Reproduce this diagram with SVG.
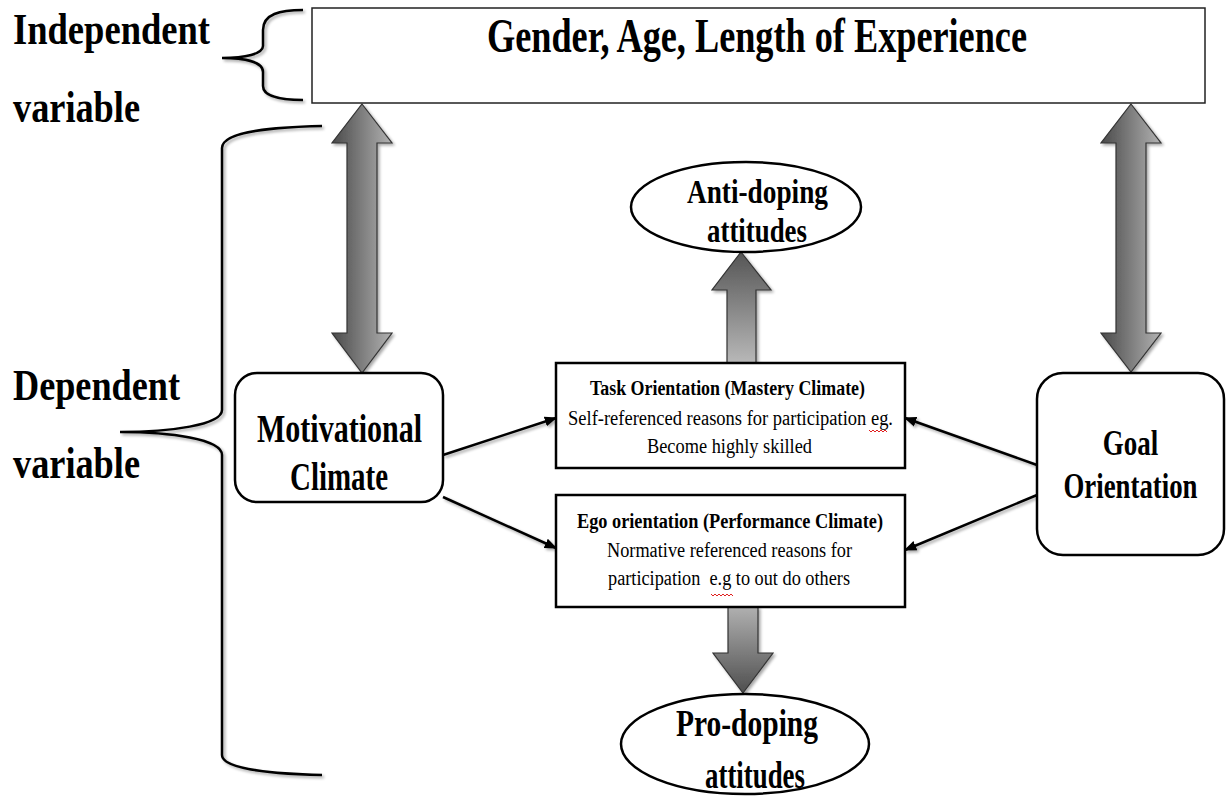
<svg xmlns="http://www.w3.org/2000/svg" width="1231" height="796" viewBox="0 0 1231 796">
<style>
  .t { font-family: "Liberation Serif", "Times New Roman", serif; fill: #000; }
  .b { font-weight: bold; }
  .box { fill: #fff; stroke: #000; stroke-width: 2.5; }
  .brace { fill: none; stroke: #000; stroke-width: 2.5; filter: url(#sh); }
  .conn { stroke: #000; stroke-width: 2.5; fill: none; marker-end: url(#ah); filter: url(#sh); }
  .big { stroke: #333; stroke-width: 1.2; filter: url(#sh); }
  .sq { fill: none; stroke: #e02020; stroke-width: 1; }
</style>
<defs>
  <filter id="sh" x="-20%" y="-20%" width="140%" height="140%">
    <feGaussianBlur in="SourceAlpha" stdDeviation="1.5"/>
    <feOffset dx="1.5" dy="1.5" result="o"/>
    <feComponentTransfer><feFuncA type="linear" slope="0.35"/></feComponentTransfer>
    <feMerge><feMergeNode/><feMergeNode in="SourceGraphic"/></feMerge>
  </filter>
  <linearGradient id="gh" x1="0" y1="0" x2="1" y2="0">
    <stop offset="0" stop-color="#4a4a4a"/>
    <stop offset="1" stop-color="#b2b2b2"/>
  </linearGradient>
  <linearGradient id="gup" x1="0" y1="0" x2="0" y2="1">
    <stop offset="0" stop-color="#555"/>
    <stop offset="1" stop-color="#b8b8b8"/>
  </linearGradient>
  <linearGradient id="gdn" x1="0" y1="0" x2="0" y2="1">
    <stop offset="0" stop-color="#b0b0b0"/>
    <stop offset="1" stop-color="#4f4f4f"/>
  </linearGradient>
  <marker id="ah" viewBox="0 0 10 10" refX="9" refY="5" markerWidth="5" markerHeight="5" orient="auto" markerUnits="strokeWidth">
    <path d="M0,1 L10,5 L0,9 Z" fill="#000"/>
  </marker>
</defs>

<g id="labels">
  <text class="t b" x="13" y="44" font-size="44" textLength="197" lengthAdjust="spacingAndGlyphs">Independent</text>
  <text class="t b" x="13" y="122" font-size="44" textLength="127" lengthAdjust="spacingAndGlyphs">variable</text>
  <text class="t b" x="13" y="400" font-size="44" textLength="167" lengthAdjust="spacingAndGlyphs">Dependent</text>
  <text class="t b" x="13" y="478" font-size="44" textLength="127" lengthAdjust="spacingAndGlyphs">variable</text>
</g>

<g id="braces">
  <path class="brace" d="M303,10 C280,10 263,14 263,30 L263,46 C263,54 245,58 222,58 C245,58 263,62 263,72 L263,86 C263,96 280,100 303,100"/>
  <path class="brace" d="M322,126 C280,127 222,130 222,148 L222,410 C222,425 170,432 120,432 C170,432 222,439 222,455 L222,755 C222,770 280,774 322,775"/>
</g>

<g id="independent">
  <rect x="312" y="8" width="893" height="95" fill="#fff" stroke="#222" stroke-width="1.5"/>
  <text class="t b" x="487" y="52" font-size="48" textLength="540" lengthAdjust="spacingAndGlyphs">Gender, Age, Length of Experience</text>
</g>

<g id="big-arrows">
  <path class="big" fill="url(#gh)" d="M362,104 L392,143 L377,143 L377,333 L392,333 L362,373 L332,333 L347,333 L347,143 L332,143 Z"/>
  <path class="big" fill="url(#gh)" d="M1131,104 L1161,143 L1146,143 L1146,333 L1161,333 L1131,372 L1101,333 L1116,333 L1116,143 L1101,143 Z"/>
  <path class="big" fill="url(#gup)" d="M741,252 L771,290 L756,290 L756,363 L727,363 L727,290 L712,290 Z"/>
  <path class="big" fill="url(#gdn)" d="M743,693 L773,653 L758,653 L758,607 L728,607 L728,653 L713,653 Z"/>
</g>

<g id="connectors">
  <line class="conn" x1="443" y1="455" x2="556" y2="418"/>
  <line class="conn" x1="443" y1="497" x2="556" y2="548"/>
  <line class="conn" x1="1037" y1="465" x2="905" y2="418"/>
  <line class="conn" x1="1037" y1="495" x2="905" y2="550"/>
</g>

<g id="motivational">
  <rect class="box" x="235" y="373" width="208" height="129" rx="22" ry="22"/>
  <text class="t b" x="257" y="442" font-size="40" textLength="165" lengthAdjust="spacingAndGlyphs">Motivational</text>
  <text class="t b" x="290" y="490" font-size="40" textLength="98" lengthAdjust="spacingAndGlyphs">Climate</text>
</g>

<g id="goal">
  <rect class="box" x="1037" y="373" width="187" height="182" rx="26" ry="26"/>
  <text class="t b" transform="translate(1130.5,455) scale(0.75,1)" x="0" y="0" font-size="36" text-anchor="middle">Goal</text>
  <text class="t b" transform="translate(1130.5,498) scale(0.745,1)" x="0" y="0" font-size="36" text-anchor="middle">Orientation</text>
</g>

<g id="task">
  <rect class="box" x="556" y="363" width="349" height="105"/>
  <text class="t b" x="590" y="395" font-size="20" textLength="275" lengthAdjust="spacingAndGlyphs">Task Orientation (Mastery Climate)</text>
  <text class="t" x="568" y="425" font-size="20" textLength="325" lengthAdjust="spacingAndGlyphs">Self-referenced reasons for participation eg.</text>
  <text class="t" x="647" y="453" font-size="20" textLength="165" lengthAdjust="spacingAndGlyphs">Become highly skilled</text>
  <path class="sq" d="M869,430 l2,2 l2,-2 l2,2 l2,-2 l2,2 l2,-2 l2,2 l2,-2 l2,2"/>
</g>

<g id="ego">
  <rect class="box" x="556" y="495" width="349" height="112"/>
  <text class="t b" x="577" y="528" font-size="20" textLength="306" lengthAdjust="spacingAndGlyphs">Ego orientation (Performance Climate)</text>
  <text class="t" x="607" y="557" font-size="20" textLength="245" lengthAdjust="spacingAndGlyphs">Normative referenced reasons for</text>
  <text class="t" x="608" y="585" font-size="20" textLength="242" lengthAdjust="spacingAndGlyphs" xml:space="preserve">participation  e.g to out do others</text>
  <path class="sq" d="M711,594 l2,2 l2,-2 l2,2 l2,-2 l2,2 l2,-2 l2,2 l2,-2 l2,2 l2,-2 l2,2"/>
</g>

<g id="anti-doping">
  <ellipse class="box" cx="746" cy="207" rx="115" ry="45"/>
  <text class="t b" x="687" y="203" font-size="34" textLength="141" lengthAdjust="spacingAndGlyphs">Anti-doping</text>
  <text class="t b" x="707" y="242" font-size="34" textLength="100" lengthAdjust="spacingAndGlyphs">attitudes</text>
</g>

<g id="pro-doping">
  <ellipse class="box" cx="745" cy="744" rx="124" ry="50"/>
  <text class="t b" x="676" y="736" font-size="37" textLength="142" lengthAdjust="spacingAndGlyphs">Pro-doping</text>
  <text class="t b" x="705" y="788" font-size="37" textLength="100" lengthAdjust="spacingAndGlyphs">attitudes</text>
</g>
</svg>
